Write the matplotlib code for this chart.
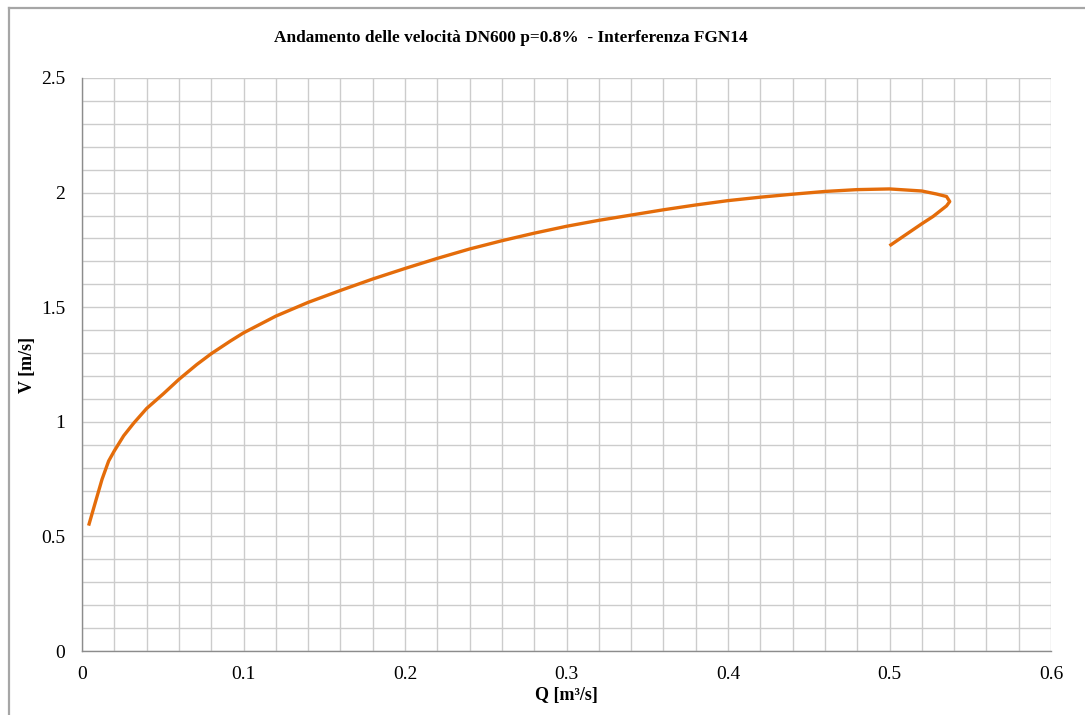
import numpy as np
import matplotlib
matplotlib.use("Agg")
import matplotlib.pyplot as plt
from matplotlib.lines import Line2D
from matplotlib.ticker import MultipleLocator

# portata Q [m3/s] e velocita V [m/s]
portata = [0.0041, 0.0082, 0.0124, 0.0165, 0.020, 0.0258, 0.032, 0.040,
           0.0505, 0.060, 0.0711, 0.080, 0.0918, 0.100, 0.120, 0.140,
           0.160, 0.180, 0.200, 0.220, 0.240, 0.260, 0.280, 0.300, 0.320,
           0.340, 0.360, 0.380, 0.400, 0.420, 0.440, 0.460, 0.480, 0.500,
           0.520, 0.529, 0.5353, 0.5373, 0.5353, 0.527, 0.520, 0.500]
velocita = [0.547, 0.647, 0.749, 0.829, 0.873, 0.939, 0.994, 1.058,
            1.123, 1.185, 1.250, 1.297, 1.352, 1.388, 1.461, 1.521,
            1.573, 1.623, 1.669, 1.713, 1.754, 1.790, 1.823, 1.853, 1.879,
            1.902, 1.925, 1.946, 1.965, 1.980, 1.993, 2.005, 2.013, 2.016,
            2.007, 1.994, 1.983, 1.961, 1.942, 1.896, 1.864, 1.768]

titolo = "Andamento delle velocità DN600 p=0.8%  - Interferenza FGN14"
x_label = "Q [m³/s]"
y_label = "V [m/s]"

plt.rcParams['font.family'] = ['Liberation Serif', 'DejaVu Serif']

fig = plt.figure(figsize=(10.85, 7.15), dpi=100)
ax = fig.add_axes([82/1085, 64/715, (1051-82)/1085, (651-78)/715])

ax.plot(portata, velocita, color="#E46C0A", linewidth=2.4,
        solid_joinstyle="round", solid_capstyle="butt", zorder=3)

ax.set_xlim(0, 0.6)
ax.set_ylim(0, 2.5)
ax.xaxis.set_major_locator(MultipleLocator(0.1))
ax.xaxis.set_minor_locator(MultipleLocator(0.02))
ax.yaxis.set_major_locator(MultipleLocator(0.5))
ax.yaxis.set_minor_locator(MultipleLocator(0.1))
fmt = plt.FuncFormatter(lambda v, p: "%g" % round(v, 2))
ax.xaxis.set_major_formatter(fmt)
ax.yaxis.set_major_formatter(fmt)

ax.grid(which="both", color="#cccccc", linewidth=1.0)
ax.set_axisbelow(True)
ax.tick_params(which="both", length=0, labelsize=14, colors="black")
ax.tick_params(axis="x", pad=11)
ax.tick_params(axis="y", pad=12)

for s in ["top", "right"]:
    ax.spines[s].set_visible(False)
for s in ["left", "bottom"]:
    ax.spines[s].set_color("#8c8c8c")
    ax.spines[s].set_linewidth(1.0)

ax.set_xlabel(x_label, fontsize=13, fontweight="bold", labelpad=3)
ax.set_ylabel(y_label, fontsize=13, fontweight="bold", labelpad=4)

fig.text(511/1085, 1 - 38/715, titolo, ha="center", va="center",
         fontsize=12.4, fontweight="bold")

# cornice del grafico
bx, by = 9/1085, 1 - 8/715
fig.add_artist(Line2D([bx, bx], [0, by], transform=fig.transFigure,
                      color="#a6a6a6", linewidth=1.6))
fig.add_artist(Line2D([bx, 1], [by, by], transform=fig.transFigure,
                      color="#a6a6a6", linewidth=1.6))

fig.savefig("out.png", dpi=100, facecolor="white")
